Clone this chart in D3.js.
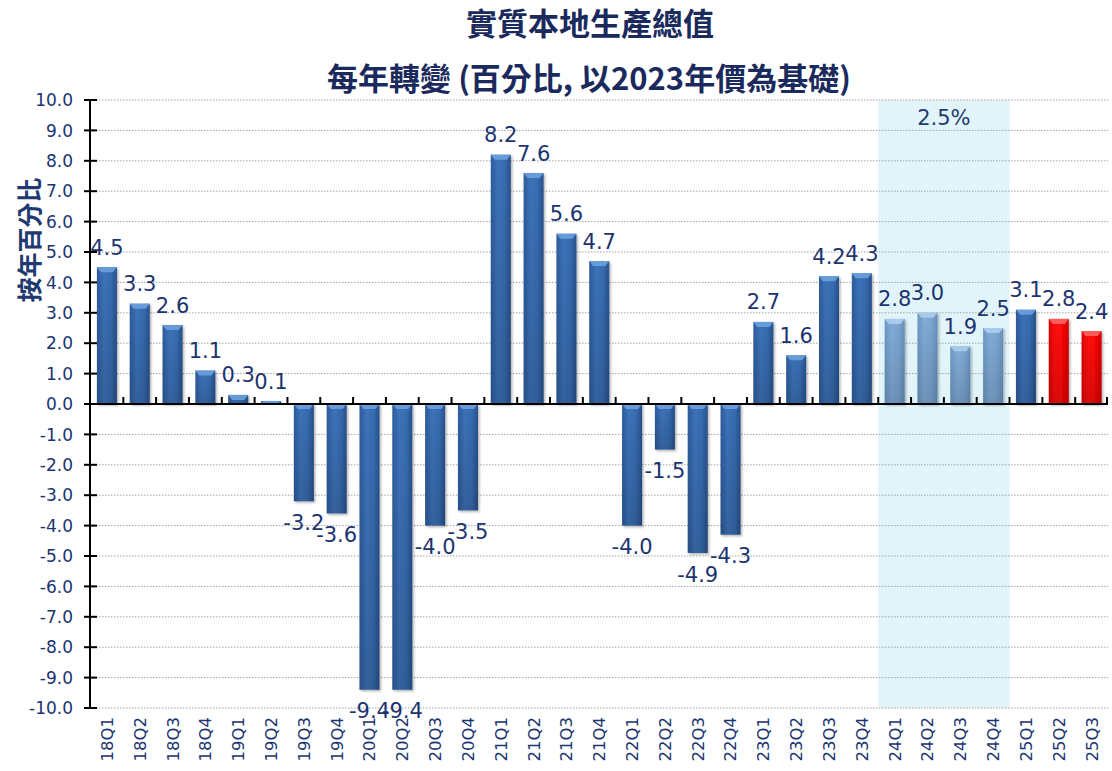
<!DOCTYPE html>
<html>
<head>
<meta charset="utf-8">
<script src="https://cdn.jsdelivr.net/npm/d3@7"></script>
<style>
  body { margin: 0; background: #fff; }
  text { font-family: "DejaVu Sans", Verdana, sans-serif; }
  .cjk { font-family: "Noto Sans CJK TC", "Noto Sans CJK SC", sans-serif; }
</style>
</head>
<body>
<script>
// quarters and year-on-year growth (%)
var quarters = ["18Q1", "18Q2", "18Q3", "18Q4",
"19Q1", "19Q2", "19Q3", "19Q4",
"20Q1", "20Q2", "20Q3", "20Q4",
"21Q1", "21Q2", "21Q3", "21Q4",
"22Q1", "22Q2", "22Q3", "22Q4",
"23Q1", "23Q2", "23Q3", "23Q4",
"24Q1", "24Q2", "24Q3", "24Q4",
"25Q1", "25Q2", "25Q3"];

var growth = [4.5, 3.3, 2.6, 1.1,
0.3, 0.1, -3.2, -3.6,
-9.4, -9.4, -4.0, -3.5,
8.2, 7.6, 5.6, 4.7,
-4.0, -1.5, -4.9, -4.3,
2.7, 1.6, 4.2, 4.3,
2.8, 3.0, 1.9, 2.5,
3.1, 2.8, 2.4];

var yTicks = [10, 9, 8, 7, 6, 5, 4, 3, 2, 1, 0, -1, -2, -3, -4, -5, -6, -7, -8, -9, -10];

// shaded year and its annual figure
var highlightQuarters = ["24Q1", "24Q2", "24Q3", "24Q4"];
var highlightLabel = "2.5%";
var redQuarters = ["25Q2", "25Q3"];

var title = "實質本地生產總值";
var yTitle = "按年百分比";

var width = 1112, height = 771;
var margin = {top: 100, right: 4, bottom: 63, left: 90};

var svg = d3.select("body").append("svg")
    .attr("width", width)
    .attr("height", height);

var defs = svg.append("defs");

function addGradient(id, stops) {
    var g = defs.append("linearGradient")
        .attr("id", id)
        .attr("x1", "0%").attr("x2", "100%")
        .attr("y1", "0%").attr("y2", "0%");
    stops.forEach(function(s) {
        g.append("stop").attr("offset", s[0]).attr("stop-color", s[1]);
    });
}
addGradient("gDark", [["0%", "#2d5b9b"], ["35%", "#3d73ba"], ["70%", "#376cb0"], ["100%", "#27508b"]]);
addGradient("gLight", [["0%", "#6c98c4"], ["35%", "#82add8"], ["70%", "#7ca6d1"], ["100%", "#6690bd"]]);
addGradient("gRed", [["0%", "#e00000"], ["35%", "#ff1010"], ["70%", "#fb0606"], ["100%", "#d40000"]]);

var shade = defs.append("linearGradient")
    .attr("id", "gShade")
    .attr("x1", "0%").attr("x2", "0%")
    .attr("y1", "0%").attr("y2", "100%");
shade.append("stop").attr("offset", "0%").attr("stop-color", "#000").attr("stop-opacity", 0);
shade.append("stop").attr("offset", "100%").attr("stop-color", "#000").attr("stop-opacity", 0.15);

var shadow = defs.append("filter").attr("id", "shadow")
    .attr("x", "-20%").attr("y", "-5%").attr("width", "150%").attr("height", "115%");
shadow.append("feDropShadow")
    .attr("dx", 1.5).attr("dy", 1.5).attr("stdDeviation", 1.2)
    .attr("flood-color", "#000").attr("flood-opacity", 0.3);

// scales
var x = d3.scaleBand()
    .domain(quarters)
    .range([margin.left + 0.5, width - margin.right])
    .paddingInner(0.39)
    .paddingOuter(0.195);

var step = x.step();
function bandStart(q) { return x(q) - x.paddingInner() * step / 2; }

var y = d3.scaleLinear()
    .domain([-10, 10])
    .range([height - margin.bottom, margin.top]);

function fmt(v) { return v.toFixed(1); }

// titles
svg.append("text")
    .attr("class", "cjk")
    .attr("x", 590).attr("y", 35)
    .attr("text-anchor", "middle")
    .style("font-size", "31px").style("font-weight", "bold")
    .style("fill", "#1a2a5c")
    .text(title);

var sub = svg.append("text")
    .attr("class", "cjk")
    .attr("x", 589).attr("y", 90)
    .attr("text-anchor", "middle")
    .style("font-size", "31px").style("font-weight", "bold")
    .style("fill", "#1a2a5c");
sub.append("tspan").text("每年轉變 (百分比, 以");
sub.append("tspan").text("2023");
sub.append("tspan").text("年價為基礎)");

// shaded period
var hx0 = bandStart(highlightQuarters[0]);
var hx1 = bandStart(highlightQuarters[highlightQuarters.length - 1]) + step;
svg.append("rect")
    .attr("x", hx0).attr("y", y(10))
    .attr("width", hx1 - hx0).attr("height", y(-10) - y(10))
    .style("fill", "#e1f4f9");

svg.append("text")
    .attr("x", (hx0 + hx1) / 2).attr("y", y(10) + 17)
    .attr("dy", "0.36em")
    .attr("text-anchor", "middle")
    .style("font-size", "21px")
    .style("fill", "#1f3a70")
    .text(highlightLabel);

// gridlines
svg.append("g")
    .selectAll("line")
    .data(yTicks.filter(function(d) { return d !== 0; }))
    .enter().append("line")
    .attr("x1", margin.left).attr("x2", width - margin.right)
    .attr("y1", function(d) { return y(d); })
    .attr("y2", function(d) { return y(d); })
    .style("stroke", "#a3a3a3")
    .style("stroke-width", 1)
    .style("stroke-dasharray", "1.5,1.5");

// bars
function barFill(q) {
    if (redQuarters.indexOf(q) >= 0) return "url(#gRed)";
    if (highlightQuarters.indexOf(q) >= 0) return "url(#gLight)";
    return "url(#gDark)";
}
function capFill(q) {
    if (redQuarters.indexOf(q) >= 0) return "#ff6a6a";
    if (highlightQuarters.indexOf(q) >= 0) return "#b0d0ee";
    return "#6fa3e0";
}

var bars = svg.append("g").selectAll("g.bar")
    .data(quarters.map(function(q, i) { return {q: q, v: growth[i]}; }))
    .enter().append("g")
    .attr("class", "bar");

bars.append("rect")
    .attr("x", function(d) { return x(d.q); })
    .attr("y", function(d) { return y(Math.max(0, d.v)); })
    .attr("width", x.bandwidth())
    .attr("height", function(d) { return Math.abs(y(d.v) - y(0)); })
    .style("fill", function(d) { return barFill(d.q); })
    .attr("filter", "url(#shadow)");

bars.append("rect")
    .attr("x", function(d) { return x(d.q); })
    .attr("y", function(d) { return y(Math.max(0, d.v)); })
    .attr("width", x.bandwidth())
    .attr("height", function(d) { return Math.abs(y(d.v) - y(0)); })
    .style("fill", "url(#gShade)");

// bevel on the top of each bar
bars.append("path")
    .attr("d", function(d) {
        var x0 = x(d.q), x1 = x0 + x.bandwidth();
        var top = y(Math.max(0, d.v));
        var h = Math.min(5, Math.abs(y(d.v) - y(0)));
        return "M" + x0 + "," + top + "L" + x1 + "," + top +
            "L" + (x1 - 4) + "," + (top + h) + "L" + (x0 + 4) + "," + (top + h) + "Z";
    })
    .style("fill", function(d) { return capFill(d.q); })
    .style("opacity", 0.85);

// value labels
bars.append("text")
    .attr("x", function(d) { return x(d.q) + x.bandwidth() / 2; })
    .attr("y", function(d) { return d.v >= 0 ? y(d.v) - 20 : y(d.v) + 21; })
    .attr("dy", "0.36em")
    .attr("text-anchor", "middle")
    .style("font-size", "21px")
    .style("fill", "#1b3470")
    .text(function(d) { return fmt(d.v); });

// y axis
var yAxis = svg.append("g");
yAxis.append("line")
    .attr("x1", margin.left).attr("x2", margin.left)
    .attr("y1", y(10)).attr("y2", y(-10))
    .style("stroke", "#000").style("stroke-width", 2);
yAxis.selectAll("line.tick")
    .data(yTicks)
    .enter().append("line")
    .attr("class", "tick")
    .attr("x1", margin.left - 6).attr("x2", margin.left + 7)
    .attr("y1", function(d) { return y(d); })
    .attr("y2", function(d) { return y(d); })
    .style("stroke", "#000").style("stroke-width", 2);
yAxis.selectAll("text")
    .data(yTicks)
    .enter().append("text")
    .attr("x", 73)
    .attr("y", function(d) { return y(d); })
    .attr("dy", "0.36em")
    .attr("text-anchor", "end")
    .style("font-size", "17px")
    .style("fill", "#1b3470")
    .text(function(d) { return fmt(d); });

svg.append("text")
    .attr("class", "cjk")
    .attr("transform", "translate(30," + 240 + ") rotate(-90)")
    .attr("dy", "0.36em")
    .attr("text-anchor", "middle")
    .style("font-size", "25px")
    .style("font-weight", "600")
    .style("fill", "#1f3a70")
    .text(yTitle);

// category axis along zero
var xAxis = svg.append("g");
xAxis.append("line")
    .attr("x1", margin.left).attr("x2", width - margin.right)
    .attr("y1", y(0)).attr("y2", y(0))
    .style("stroke", "#000").style("stroke-width", 2);
xAxis.selectAll("line.tick")
    .data(quarters.slice(1).concat(["end"]))
    .enter().append("line")
    .attr("class", "tick")
    .attr("x1", function(d) { return d === "end" ? width - margin.right - 1 : bandStart(d); })
    .attr("x2", function(d) { return d === "end" ? width - margin.right - 1 : bandStart(d); })
    .attr("y1", y(0) - 7).attr("y2", y(0))
    .style("stroke", "#000").style("stroke-width", 2);

svg.append("g").selectAll("text")
    .data(quarters)
    .enter().append("text")
    .attr("transform", function(d) {
        return "translate(" + (x(d) + x.bandwidth() / 2) + "," + (y(-10) + 9) + ") rotate(-90)";
    })
    .attr("dy", "0.36em")
    .attr("text-anchor", "end")
    .style("font-size", "16.5px")
    .style("fill", "#1b3470")
    .text(function(d) { return d; });
</script>
</body>
</html>
